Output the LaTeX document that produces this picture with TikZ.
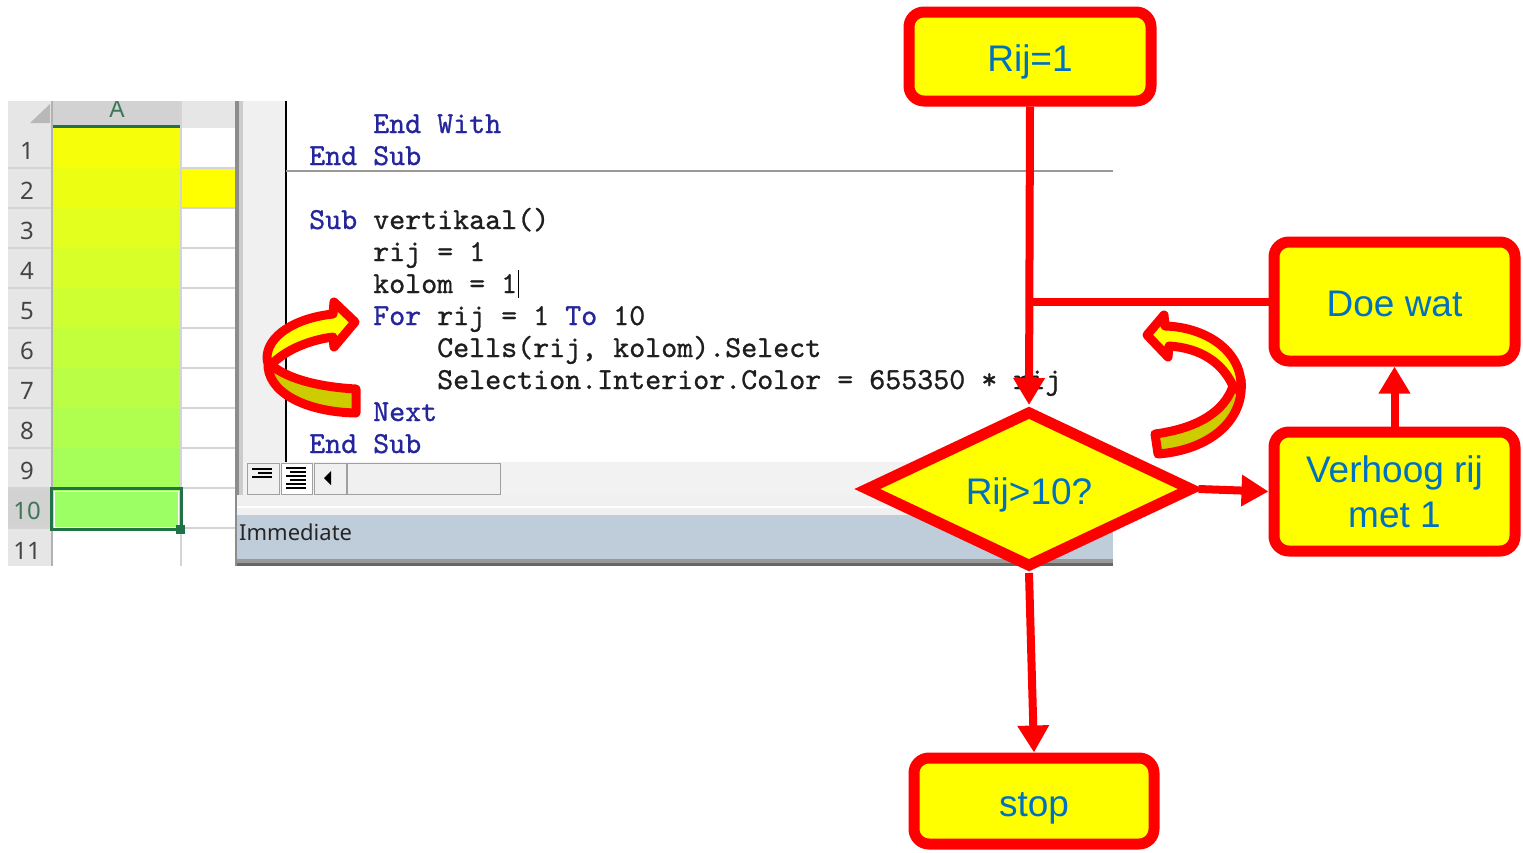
\documentclass[tikz,border=0pt]{standalone}
\usepackage{fontspec}
\setmainfont{Liberation Sans}
\newfontfamily\codefont{lmmono10-regular.otf}[FakeBold=0.9, WordSpace={1,0,0}, PunctuationSpace=WordSpace]
\newfontfamily\uifont{Noto Sans}
\usetikzlibrary{shapes.geometric,arrows.meta}
\frenchspacing
\definecolor{fcred}{HTML}{FF0000}
\definecolor{fcyel}{HTML}{FFFF00}
\definecolor{fcblue}{HTML}{0070C0}
\definecolor{kwblue}{HTML}{25259C}
\definecolor{codeblk}{HTML}{1E1E1E}
\definecolor{darkband}{HTML}{CCCC00}
\definecolor{xlgreen}{HTML}{217346}
\definecolor{hdrgray}{HTML}{E6E6E6}
\definecolor{hdrsel}{HTML}{D2D2D2}
\definecolor{gridgray}{HTML}{D4D4D4}
\definecolor{margingray}{HTML}{F0F0F0}
\definecolor{immblue}{HTML}{BFCDDB}
\definecolor{rownum}{HTML}{444444}
\definecolor{btngray}{HTML}{A0A0A0}
\tikzset{
  fcbox/.style={rectangle, rounded corners=15pt, draw=fcred, fill=fcyel, line width=11pt,
    text=fcblue, font=\fontsize{37}{45}\selectfont, align=center, inner sep=0pt},
  oneline/.style={text height=32pt, text depth=2pt},
  fcdia/.style={diamond, aspect=2.3, draw=fcred, fill=fcyel, line width=11pt, text=fcblue,
    font=\fontsize{37}{45}\selectfont, inner sep=0pt, minimum width=328pt, minimum height=157pt},
  fcline/.style={draw=fcred, line width=8pt},
  fcarrow/.style={fcline, -{Triangle[length=27pt,width=30pt]}},
  bendarrow/.style={draw=fcred, line width=9pt, line join=round},
  codeline/.style={anchor=base west, inner sep=0pt, text=codeblk,
    font=\codefont\fontsize{30.48}{32}\selectfont},
  rowlbl/.style={inner sep=0pt, text=rownum, font=\uifont\fontsize{24}{26}\selectfont},
}
\begin{document}
\begin{tikzpicture}[x=1pt,y=-1pt]
\useasboundingbox (0,0) rectangle (1523,852);
\fill[white] (0,0) rectangle (1523,852);

% ---------------- Excel sheet ----------------
\begin{scope}
\clip (8,101) rectangle (237,566);
\fill[white] (8,101) rectangle (237,566);
\fill[hdrgray] (8,101) rectangle (237,128);
\fill[hdrsel] (52,101) rectangle (181,128);
\fill[xlgreen] (52,125) rectangle (181,128.5);
\fill[black!28] (50,104) -- (50,123) -- (30,123) -- cycle;
\node[anchor=base, inner sep=0pt, text=xlgreen!70!gray, font=\uifont\fontsize{24}{26}\selectfont] (colA) at (117,117) {A};
\fill[hdrgray] (8,128) rectangle (52,566);
\fill[hdrsel] (8,488) rectangle (52,528);
\fill[xlgreen] (49.5,488) rectangle (52,528);
\foreach \i in {1,...,10}{
  \pgfmathtruncatemacro{\rr}{256-10*\i}
  \pgfmathtruncatemacro{\bb}{10*\i-1}
  \definecolor{cellc}{RGB}{\rr,255,\bb}
  \fill[cellc] (52,128+40*\i-40) rectangle (181,128+40*\i);
}
\fill[fcyel] (181,168) rectangle (237,209);
\foreach \i in {1,...,11}{
  \draw[gridgray, line width=1.2pt] (8,128+40*\i) -- (52,128+40*\i);
  \draw[gridgray, line width=1.2pt] (181,128+40*\i) -- (237,128+40*\i);
}
\draw[gridgray, line width=1.2pt] (181,101) -- (181,566);
\draw[black!30, line width=1.2pt] (52,101) -- (52,566);
\foreach \i in {1,...,9}{
  \node[rowlbl] (r\i) at (27,151+40*\i-40) {\i};
}
\node[rowlbl, text=xlgreen!70!gray] (r10) at (27,511) {10};
\node[rowlbl] (r11) at (27,551) {11};
\draw[xlgreen, line width=3pt] (51.5,488.5) rectangle (181,529.5);
\draw[white, line width=1pt] (54,491) rectangle (178.5,527);
\fill[xlgreen] (176,524.5) rectangle (185,533.5);
\end{scope}

% ---------------- VBA editor ----------------
\fill[black!45] (235,101) rectangle (239,566);
\fill[black!20] (239,101) rectangle (243,495);
\fill[white] (243,101) rectangle (1113,462);
\fill[margingray] (243,101) rectangle (286,462);
\draw[black, line width=1.5pt] (286,101) -- (286,462);
\draw[black!40, line width=2pt] (286,171) -- (1113,171);

\node[codeline] (c1) at (373,133) {\textcolor{kwblue}{End With}};
\node[codeline] (c2) at (309,165) {\textcolor{kwblue}{End Sub}};
\node[codeline] (c3) at (309,229) {\textcolor{kwblue}{Sub} vertikaal()};
\node[codeline] (c4) at (373,261) {rij = 1};
\node[codeline] (c5) at (373,293) {kolom = 1};
\node[codeline] (c6) at (373,325) {\textcolor{kwblue}{For} rij = 1 \textcolor{kwblue}{To} 10};
\node[codeline] (c7) at (437,357) {Cells(rij, kolom).Select};
\node[codeline] (c8) at (437,389) {Selection.Interior.Color = 655350 * rij};
\node[codeline] (c9) at (373,421) {\textcolor{kwblue}{Next}};
\node[codeline] (c10) at (309,453) {\textcolor{kwblue}{End Sub}};
\draw[black, line width=1.5pt] (518.5,270) -- (518.5,298);

% scroll bar row
\fill[black!5] (243,462) rectangle (1113,495);
\draw[btngray, line width=1pt, fill=margingray] (247,463) rectangle (279,494);
\draw[btngray, line width=1pt, fill=white] (281,463) rectangle (312,494);
\draw[btngray, line width=1pt, fill=margingray] (314,463) rectangle (346,494);
\draw[btngray, line width=1pt, fill=margingray] (347,463) rectangle (500,494);
\foreach \yy/\xa in {469/252,473/258,477/252}{\draw[black, line width=1.6pt] (\xa,\yy) -- (272,\yy);}
\foreach \yy/\xa in {468/286,472/290,476/286,480/290,484/286,488/286}{\draw[black, line width=1.4pt] (\xa,\yy) -- (306,\yy);}
\fill[black] (324,478) -- (331,471) -- (331,485) -- cycle;
% bottom bands
\fill[margingray] (237,495) rectangle (1113,515);
\draw[white, line width=2pt] (237,507) -- (1113,507);
\fill[immblue] (237,515) rectangle (1113,559);
\fill[black!40] (237,559) rectangle (1113,563);
\fill[black!60] (237,563) rectangle (1113,566);
\node[anchor=west, inner sep=0pt, text=black!85, font=\uifont\fontsize{22}{26}\selectfont] (imm) at (239,532) {Immediate};

% ---------------- curved arrows ----------------
\filldraw[bendarrow, fill=darkband] (356,389) .. controls (318,387) and (283,378) .. (268,362)
   .. controls (266,392) and (305,412) .. (356,413) -- cycle;
\filldraw[bendarrow, fill=fcyel] (355,322) -- (334,302) -- (333,314)
   .. controls (295,318) and (267,336) .. (267,358)
   .. controls (267,364) and (270,366) .. (274,362)
   .. controls (288,349) and (310,340) .. (333,337) -- (334,347) -- cycle;

\filldraw[bendarrow, fill=darkband] (1241,380) .. controls (1245,420) and (1210,450) .. (1158,454)
   -- (1155,434) .. controls (1200,428) and (1225,410) .. (1233,386) -- cycle;
\filldraw[bendarrow, fill=fcyel] (1147,335) -- (1164,315) -- (1165,326)
   .. controls (1205,327) and (1240,350) .. (1241,384)
   .. controls (1241,390) and (1236,392) .. (1233,386)
   .. controls (1222,362) and (1200,348) .. (1169,346) -- (1168,357) -- cycle;

% ---------------- flowchart ----------------
\node[fcbox, oneline, minimum width=242pt, minimum height=89pt] (rij1) at (1030,56.5) {Rij=1};
\node[fcbox, oneline, minimum width=241pt, minimum height=119pt] (doe) at (1394.5,301.5) {Doe wat};
\node[fcbox, minimum width=241pt, minimum height=119pt] (verh) at (1394.5,491.5) {Verhoog rij\\met 1};
\node[fcbox, oneline, minimum width=240pt, minimum height=86pt] (stop) at (1034,801) {stop};
\node[fcdia, oneline] (cond) at (1029,489) {Rij>10?};

\draw[fcarrow] (rij1.south -| 1030,0) -- (cond.north);
\draw[fcline] (doe.west) -- (doe.west -| rij1.south);
\draw[fcarrow] (cond.east) -- (verh.west);
\draw[fcarrow] (verh.north) -- (doe.south);
\draw[fcarrow] (cond.south) -- (stop.north);
\end{tikzpicture}
\end{document}
